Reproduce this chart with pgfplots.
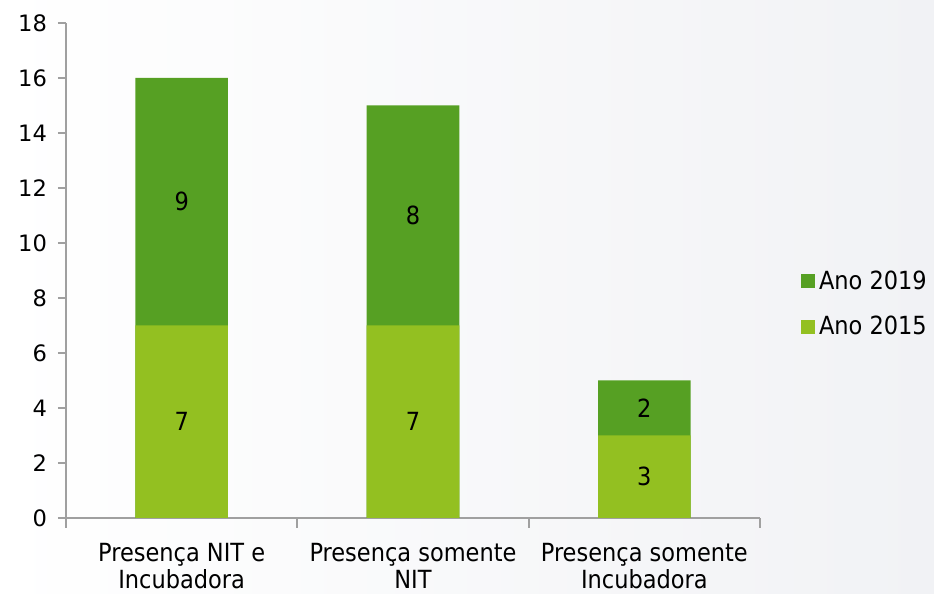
\documentclass[border=0pt]{standalone}
\usepackage{pgfplots}
\pgfplotsset{compat=1.18}
\usepackage{fontspec}
\setmainfont{DejaVu Sans Condensed}
\newfontfamily\tickfont{DejaVu Sans}
\definecolor{darkg}{HTML}{56A023}
\definecolor{lightg}{HTML}{93C021}
\definecolor{axg}{HTML}{A0A0A0}
\definecolor{bgA}{HTML}{FFFFFF}
\definecolor{bgB}{HTML}{F1F2F5}
\begin{document}
\begin{tikzpicture}
\shade[left color=bgA, right color=bgB] (0,0) rectangle (467pt,297pt);
\begin{axis}[
  at={(33pt,38pt)}, anchor=south west,
  scale only axis, width=347pt, height=247.5pt,
  ybar, bar width=0.4, bar shift=0pt,
  xmin=-0.5, xmax=2.5, ymin=0, ymax=18,
  ytick={0,2,...,18},
  xtick={0,1,2},
  xticklabels={{Presença NIT e\\Incubadora},{Presença somente\\NIT},{Presença somente\\Incubadora}},
  major x tick style={draw=none},
  minor xtick={-0.5,0.5,1.5,2.5},
  axis lines*=left,
  axis line style={axg, line width=1pt},
  tick style={axg, line width=1pt},
  tick align=outside,
  major tick length=4pt, minor tick length=5pt,
  y axis line style={-}, x axis line style={-},
  yticklabel style={font=\tickfont\fontsize{11.3}{13}\selectfont, xshift=-2pt},
  /pgf/number format/assume math mode=true,
  xticklabel style={font=\fontsize{12.5}{13.5}\selectfont, align=center, text depth=0pt, yshift=-5pt},
  legend style={draw=none, fill=none, at={(1.05,0.432)}, anchor=west,
     font=\fontsize{12.5}{14}\selectfont, row sep=8pt,
     legend cell align=left},
  legend image code/.code={\fill[#1] (0pt,-3.5pt) rectangle (7pt,3.5pt);},
  every node near coord/.append style={anchor=center, font=\fontsize{12.5}{14}\selectfont, text=black},
]
% totals (2015 + 2019)
\addplot[fill=darkg, draw=none] coordinates {(0,16) (1,15) (2,5)};
\addlegendentry{Ano 2019}
% 2015
\addplot[fill=lightg, draw=none] coordinates {(0,7) (1,7) (2,3)};
\addlegendentry{Ano 2015}
% segment labels
\addplot[draw=none, fill=none, forget plot, nodes near coords, point meta=explicit symbolic]
  coordinates {(0,3.5)[7] (1,3.5)[7] (2,1.5)[3] (0,11.5)[9] (1,11)[8] (2,4)[2]};
\end{axis}
\pgfresetboundingbox
\path (0,0) rectangle (467pt,297pt);
\end{tikzpicture}
\end{document}
